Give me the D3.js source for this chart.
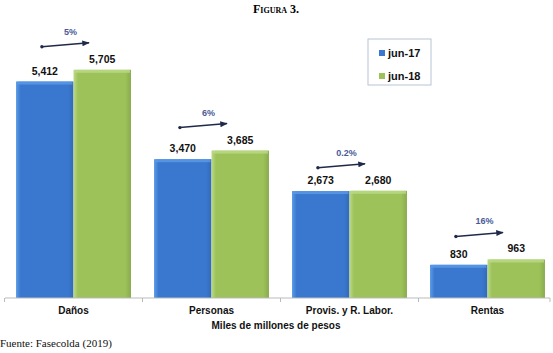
<!DOCTYPE html>
<html>
<head>
<meta charset="utf-8">
<script src="https://cdn.jsdelivr.net/npm/d3@7"></script>
<style>
  body { margin: 0; background: #fff; }
  svg { display: block; }
</style>
</head>
<body>
<svg id="svg" width="553" height="353"></svg>
<script>
const categories = ['Daños', 'Personas', 'Provis. y R. Labor.', 'Rentas']
const series = ['jun-17', 'jun-18']
const jun17 = [5412, 3470, 2673, 830]
const jun18 = [5705, 3685, 2680, 963]
const labels17 = ['5,412', '3,470', '2,673', '830']
const labels18 = ['5,705', '3,685', '2,680', '963']
const growth = ['5%', '6%', '0.2%', '16%']

const svg = d3.select('#svg')

const x = d3.scaleBand()
  .domain(categories)
  .range([5, 556])
  .paddingInner(0.167)
  .paddingOuter(0.08)

const xSub = d3.scaleBand()
  .domain(series)
  .range([0, x.bandwidth()])

const y = d3.scaleLinear()
  .domain([0, 6000])
  .range([298, 58])

const colours = { 'jun-17': ['#5b9be6', '#3a78cf'], 'jun-18': ['#bcd987', '#9cc259'] }

const defs = svg.append('defs')
series.forEach((s, i) => {
  const g = defs.append('linearGradient')
    .attr('id', 'grad' + i)
    .attr('x1', 0).attr('y1', 0).attr('x2', 1).attr('y2', 0)
  g.append('stop').attr('offset', '0%').attr('stop-color', colours[s][0])
  g.append('stop').attr('offset', '8%').attr('stop-color', colours[s][1])
  g.append('stop').attr('offset', '90%').attr('stop-color', colours[s][1])
  g.append('stop').attr('offset', '100%').attr('stop-color', d3.color(colours[s][1]).darker(0.35))
})

// title
svg.append('text')
  .attr('x', 276).attr('y', 13)
  .attr('text-anchor', 'middle')
  .style('font-family', '"Liberation Serif", serif')
  .style('font-size', '12px')
  .style('font-weight', 'bold')
  .style('font-variant', 'small-caps')
  .text('Figura 3.')

const rows = categories.map((c, i) => ({ cat: c, vals: [jun17[i], jun18[i]], labs: [labels17[i], labels18[i]], g: growth[i] }))

const groups = svg.selectAll('g.cat')
  .data(rows)
  .enter()
  .append('g')
  .attr('class', 'cat')
  .attr('transform', d => `translate(${x(d.cat)},0)`)

groups.selectAll('rect')
  .data(d => d.vals.map((v, i) => ({ s: series[i], v: v, lab: d.labs[i], i: i })))
  .enter()
  .append('rect')
  .attr('x', d => xSub(d.s))
  .attr('y', d => y(d.v))
  .attr('width', xSub.bandwidth())
  .attr('height', d => y(0) - y(d.v))
  .attr('fill', d => `url(#grad${d.i})`)

// light top edge on each bar
groups.selectAll('rect.top')
  .data(d => d.vals.map((v, i) => ({ s: series[i], v: v, i: i })))
  .enter()
  .append('rect')
  .attr('class', 'top')
  .attr('x', d => xSub(d.s) + 1)
  .attr('y', d => y(d.v))
  .attr('width', xSub.bandwidth() - 2)
  .attr('height', 3)
  .attr('fill', d => colours[d.s][0])
  .attr('opacity', 0.8)

groups.selectAll('text.val')
  .data(d => d.vals.map((v, i) => ({ s: series[i], v: v, lab: d.labs[i] })))
  .enter()
  .append('text')
  .attr('class', 'val')
  .attr('x', d => xSub(d.s) + xSub.bandwidth() / 2)
  .attr('y', d => y(d.v) - 7)
  .attr('text-anchor', 'middle')
  .style('font-family', '"Liberation Sans", Arial, sans-serif')
  .style('font-size', '10.5px')
  .style('font-weight', 'bold')
  .style('fill', '#111')
  .text(d => d.lab)

// growth arrows
svg.append('defs').append('marker')
  .attr('id', 'arrow')
  .attr('viewBox', '0 0 10 10')
  .attr('refX', 9).attr('refY', 5)
  .attr('markerWidth', 5).attr('markerHeight', 5)
  .attr('orient', 'auto')
  .append('path')
  .attr('d', 'M0,1L10,5L0,9Z')
  .attr('fill', '#1f2a4a')

const arrowY = d => y(Math.max(d.vals[0], d.vals[1])) - 25
const arrows = groups.append('g')
arrows.append('line')
  .attr('x1', xSub.bandwidth() * 0.45)
  .attr('x2', xSub.bandwidth() * 1.27)
  .attr('y1', d => arrowY(d) + 2)
  .attr('y2', d => arrowY(d) - 2)
  .attr('stroke', '#1f2a4a')
  .attr('stroke-width', 1.5)
  .attr('marker-end', 'url(#arrow)')
arrows.append('circle')
  .attr('cx', xSub.bandwidth() * 0.45)
  .attr('cy', d => arrowY(d) + 2)
  .attr('r', 1.7)
  .attr('fill', '#1f2a4a')
arrows.append('text')
  .attr('x', xSub.bandwidth() * 0.95)
  .attr('y', d => arrowY(d) - 10)
  .attr('text-anchor', 'middle')
  .style('font-family', '"Liberation Sans", Arial, sans-serif')
  .style('font-size', '9px')
  .style('font-weight', 'bold')
  .style('fill', '#4a5a9a')
  .text(d => d.g)

// axis
svg.append('line')
  .attr('x1', 5).attr('x2', 550)
  .attr('y1', y(0)).attr('y2', y(0))
  .attr('stroke', '#bbb')
const boundaries = categories.map(c => x(c) - x.step() * x.paddingInner() / 2).concat([550])
svg.selectAll('line.tick')
  .data(boundaries)
  .enter()
  .append('line')
  .attr('x1', d => d).attr('x2', d => d)
  .attr('y1', y(0)).attr('y2', y(0) + 4)
  .attr('stroke', '#bbb')

svg.selectAll('text.cat')
  .data(categories)
  .enter()
  .append('text')
  .attr('x', d => x(d) + x.bandwidth() / 2)
  .attr('y', 314)
  .attr('text-anchor', 'middle')
  .style('font-family', '"Liberation Sans", Arial, sans-serif')
  .style('font-size', '10px')
  .style('font-weight', 'bold')
  .style('fill', '#111')
  .text(d => d)

svg.append('text')
  .attr('x', 276).attr('y', 329)
  .attr('text-anchor', 'middle')
  .style('font-family', '"Liberation Sans", Arial, sans-serif')
  .style('font-size', '10px')
  .style('font-weight', 'bold')
  .style('fill', '#111')
  .text('Miles de millones de pesos')

svg.append('text')
  .attr('x', 0).attr('y', 347)
  .style('font-family', '"Liberation Serif", serif')
  .style('font-size', '11px')
  .style('fill', '#111')
  .text('Fuente: Fasecolda (2019)')

// legend
const legend = svg.append('g').attr('transform', 'translate(368,39)')
legend.append('rect')
  .attr('width', 63).attr('height', 46)
  .attr('fill', '#fff')
  .attr('stroke', '#b8c4d4')
legend.selectAll('g')
  .data(series)
  .enter()
  .append('g')
  .attr('transform', (d, i) => `translate(11,${10 + i * 23})`)
  .call(g => {
    g.append('rect')
      .attr('y', 1)
      .attr('width', 6).attr('height', 6)
      .attr('fill', d => colours[d][1])
    g.append('text')
      .attr('x', 9).attr('y', 8)
      .style('font-family', '"Liberation Sans", Arial, sans-serif')
      .style('font-size', '11px')
      .style('font-weight', 'bold')
      .style('fill', '#111')
      .text(d => d)
  })
</script>
</body>
</html>
